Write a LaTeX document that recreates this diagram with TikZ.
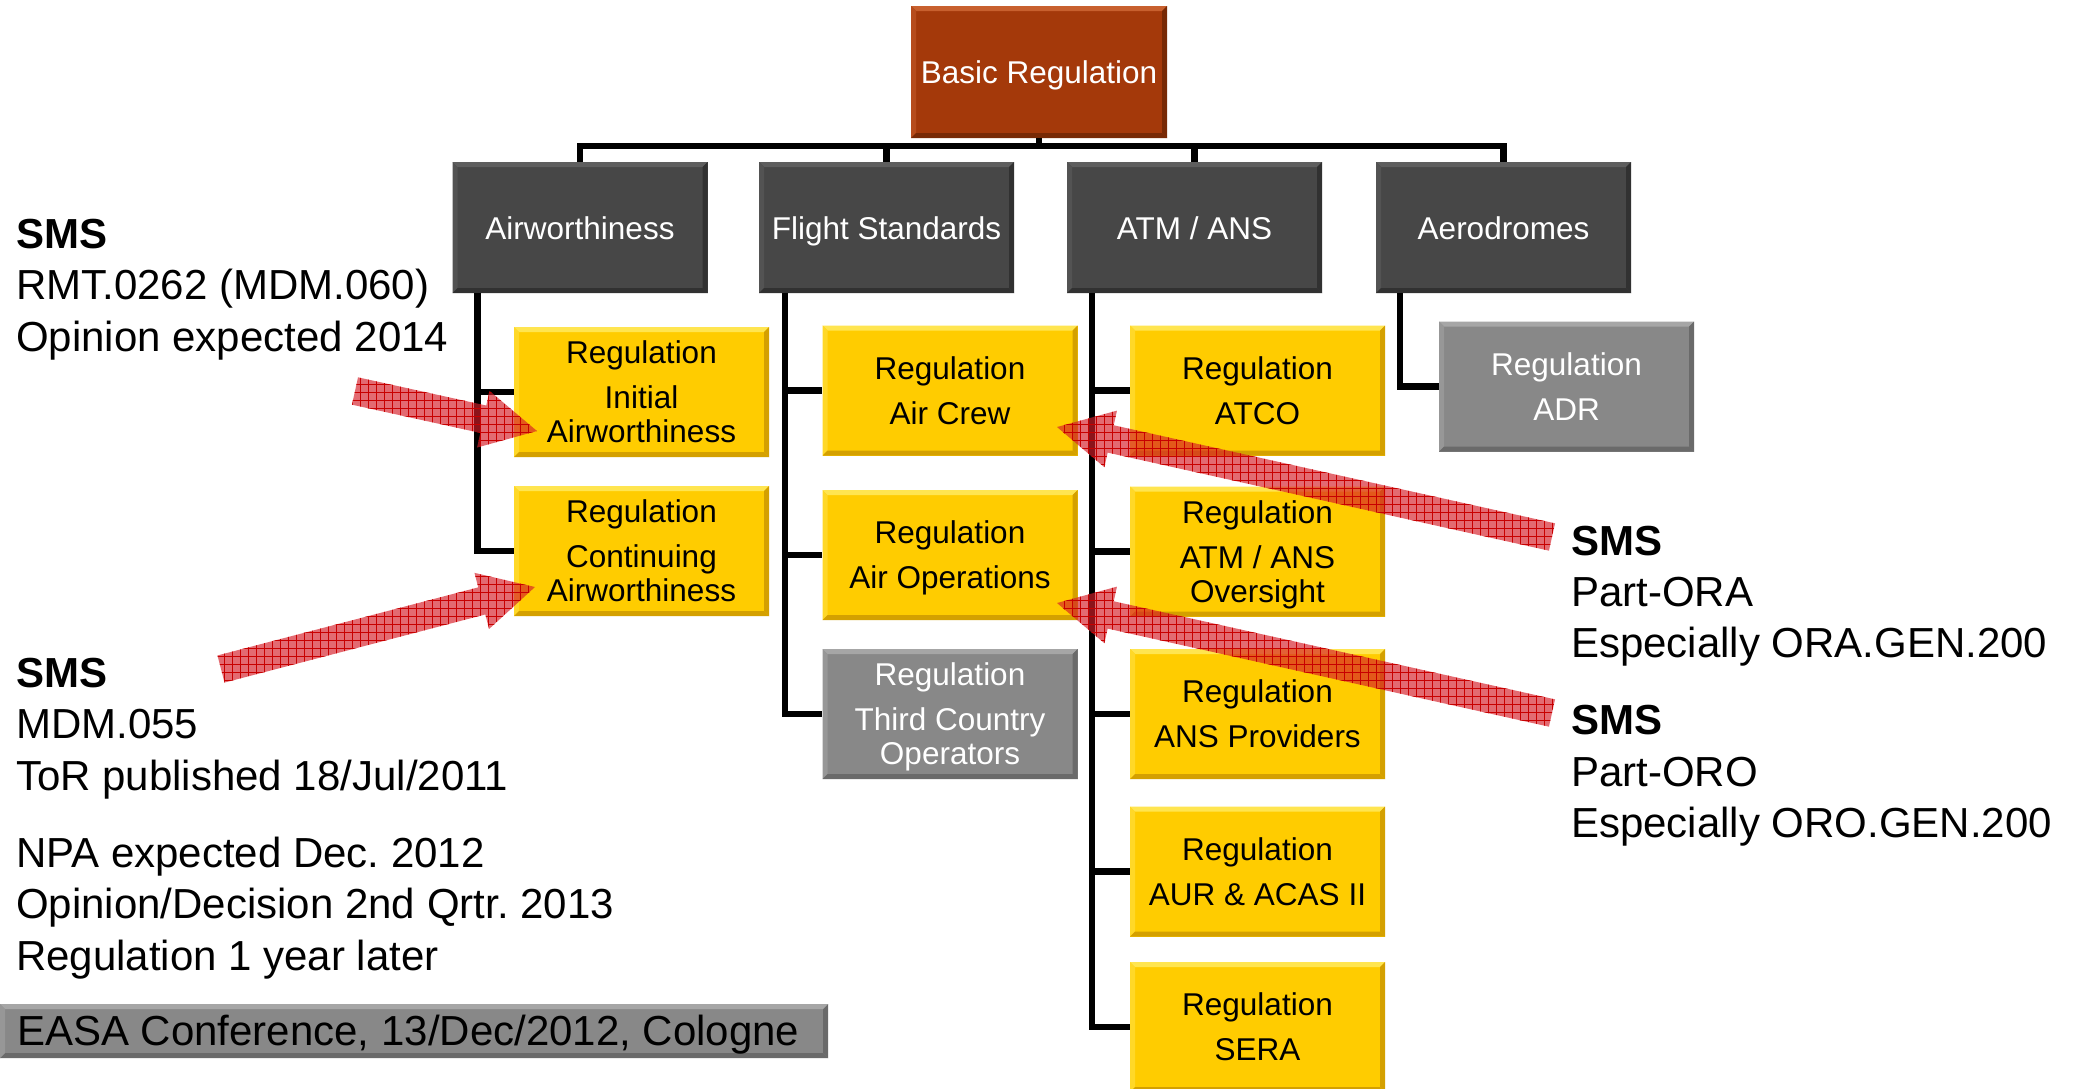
\documentclass[tikz,border=0pt]{standalone}
\usepackage{fontspec}
\setmainfont{Liberation Sans}
\usetikzlibrary{calc,patterns.meta}
\frenchspacing

\definecolor{basicfill}{HTML}{A4390A}
\definecolor{basiclite}{HTML}{C8602E}
\definecolor{basicdark}{HTML}{772905}
\definecolor{darkfill}{HTML}{474747}
\definecolor{darklite}{HTML}{5E5E5E}
\definecolor{darkdark}{HTML}{313131}
\definecolor{yelfill}{HTML}{FFCC00}
\definecolor{yellite}{HTML}{FFE550}
\definecolor{yeldark}{HTML}{D4A000}
\definecolor{greyfill}{HTML}{888888}
\definecolor{greylite}{HTML}{A6A6A6}
\definecolor{greydark}{HTML}{6A6A6A}
\definecolor{smsred}{RGB}{214,30,40}
\definecolor{smsgrid}{RGB}{200,0,0}

\def\bvw{5pt}

\tikzset{
  bev/.style n args={3}{fill=#1, path picture={
    \fill[#2] (path picture bounding box.north west) -- (path picture bounding box.north east)
      -- ([shift={(-\bvw,-\bvw)}]path picture bounding box.north east)
      -- ([shift={(\bvw,-\bvw)}]path picture bounding box.north west) -- cycle;
    \fill[#2!50!#1] (path picture bounding box.north west)
      -- ([shift={(\bvw,-\bvw)}]path picture bounding box.north west)
      -- ([shift={(\bvw,\bvw)}]path picture bounding box.south west)
      -- (path picture bounding box.south west) -- cycle;
    \fill[#3] (path picture bounding box.south west) -- (path picture bounding box.south east)
      -- ([shift={(-\bvw,\bvw)}]path picture bounding box.south east)
      -- ([shift={(\bvw,\bvw)}]path picture bounding box.south west) -- cycle;
    \fill[#3] (path picture bounding box.north east) -- (path picture bounding box.south east)
      -- ([shift={(-\bvw,\bvw)}]path picture bounding box.south east)
      -- ([shift={(-\bvw,-\bvw)}]path picture bounding box.north east) -- cycle;
  }},
  boxtext/.style={inner sep=0pt, align=center, font=\fontsize{31.5}{34}\selectfont},
  headbox/.style={boxtext, bev={darkfill}{darklite}{darkdark}, text=white,
    text height=23pt, text depth=0pt, minimum width=255pt, minimum height=131pt},
  basicbox/.style={boxtext, bev={basicfill}{basiclite}{basicdark}, text=white,
    text height=23pt, text depth=0pt, minimum width=256pt, minimum height=132pt},
  regbox/.style={boxtext, bev={yelfill}{yellite}{yeldark}, text=black,
    minimum width=255pt, minimum height=130pt},
  greybox/.style={boxtext, bev={greyfill}{greylite}{greydark}, text=white,
    minimum width=255pt, minimum height=130pt},
  conn/.style={line width=6.5pt, draw=black, line join=miter},
  note/.style={anchor=base west, inner sep=0pt, font=\fontsize{42}{50}\selectfont},
  smsarrow/.style={fill=smsred, fill opacity=0.66,
    postaction={pattern={Lines[angle=0,distance=8pt,line width=0.9pt]}, pattern color=smsgrid, fill opacity=0.5},
    postaction={pattern={Lines[angle=90,distance=8pt,line width=0.9pt]}, pattern color=smsgrid, fill opacity=0.5}},
}

% wide block arrow from a tail point to a tip point
\newcommand\fatarrow[3]{%
  \coordinate (#1-b) at ($(#3)!55pt!(#2)$);
  \path[smsarrow] ($(#2)!14pt!90:(#3)$) -- ($(#1-b)!14pt!90:(#3)$) -- ($(#1-b)!29pt!90:(#3)$)
    -- (#3) -- ($(#1-b)!29pt!-90:(#3)$) -- ($(#1-b)!14pt!-90:(#3)$) -- ($(#2)!14pt!-90:(#3)$) -- cycle;
}

\begin{document}
\begin{tikzpicture}[x=1pt,y=-1pt]
\clip (0,0) rectangle (2078,1088);
\fill[white] (0,0) rectangle (2078,1088);

% top of the hierarchy
\node[basicbox] (basic) at (1039,72) {Basic Regulation};

% domains
\node[headbox] (air)   at (580,227.5)    {Airworthiness};
\node[headbox] (fs)    at (886.5,227.5)  {Flight Standards};
\node[headbox] (atm)   at (1194.5,227.5) {ATM / ANS};
\node[headbox] (aero)  at (1503.5,227.5) {Aerodromes};

% implementing regulations
\node[regbox] (initial) at (641.5,392) {Regulation\\[11pt]Initial\\Airworthiness};
\node[regbox] (cont)    at (641.5,551) {Regulation\\[11pt]Continuing\\Airworthiness};

\node[regbox]  (crew) at (950,390.5) {Regulation\\[11pt]Air Crew};
\node[regbox]  (ops)  at (950,555)   {Regulation\\[11pt]\smash{Air Operations}};
\node[greybox] (tco)  at (950,714)   {Regulation\\[11pt]Third Country\\\smash{Operators}};

\node[regbox] (atco) at (1257.5,390.5) {Regulation\\[11pt]ATCO};
\node[regbox] (ovs)  at (1257.5,551.5) {Regulation\\[11pt]ATM / ANS\\\smash{Oversight}};
\node[regbox] (ansp) at (1257.5,714)   {Regulation\\[11pt]ANS Providers};
\node[regbox] (aur)  at (1257.5,871.5) {Regulation\\[11pt]AUR \& ACAS II};
\node[regbox] (sera) at (1257.5,1027)  {Regulation\\[11pt]SERA};

\node[greybox] (adr) at (1566.5,386.5) {Regulation\\[11pt]ADR};

% tree connectors
\coordinate (bus) at (0,146);
\draw[conn] (basic.south) -- (basic.south |- bus);
\draw[conn] (air.north) -- (air.north |- bus) -- (aero.north |- bus) -- (aero.north);
\draw[conn] (fs.north) -- (fs.north |- bus);
\draw[conn] (atm.north) -- (atm.north |- bus);

\draw[conn] ([xshift=25pt]air.south west) |- (initial.west);
\draw[conn] ([xshift=25pt]air.south west) |- (cont.west);

\draw[conn] ([xshift=26pt]fs.south west) |- (crew.west);
\draw[conn] ([xshift=26pt]fs.south west) |- (ops.west);
\draw[conn] ([xshift=26pt]fs.south west) |- (tco.west);

\draw[conn] ([xshift=25pt]atm.south west) |- (atco.west);
\draw[conn] ([xshift=25pt]atm.south west) |- (ovs.west);
\draw[conn] ([xshift=25pt]atm.south west) |- (ansp.west);
\draw[conn] ([xshift=25pt]atm.south west) |- (aur.west);
\draw[conn] ([xshift=25pt]atm.south west) |- (sera.west);

\draw[conn] ([xshift=24pt]aero.south west) |- (adr.west);

% notes on the left
\node[note] (la1) at (16,248) {\textbf{SMS}};
\node[note] (la2) at (16,299) {RMT.0262 (MDM.060)};
\node[note] (la3) at (16,351) {Opinion expected 2014};

\node[note] (lb1) at (16,687) {\textbf{SMS}};
\node[note] (lb2) at (16,738.5) {MDM.055};
\node[note] (lb3) at (16,790) {ToR published 18/Jul/2011};
\node[note] (lb4) at (16,867) {NPA expected Dec. 2012};
\node[note] (lb5) at (16,918.5) {Opinion/Decision 2nd Qrtr. 2013};
\node[note] (lb6) at (16,970) {Regulation 1 year later};

% notes on the right
\node[note] (ra1) at (1571,555) {\textbf{SMS}};
\node[note] (ra2) at (1571,606) {Part-ORA};
\node[note] (ra3) at (1571,657) {Especially ORA.GEN.200};
\node[note] (rb1) at (1571,734) {\textbf{SMS}};
\node[note] (rb2) at (1571,786) {Part-ORO};
\node[note] (rb3) at (1571,837) {Especially ORO.GEN.200};

% footer
\node[bev={greyfill}{greylite}{greydark}, minimum width=828pt, minimum height=54pt, inner sep=0pt,
  anchor=north west] (foot) at (0,1004) {};
\node[note] (foottext) at (17,1045) {EASA Conference, 13/Dec/2012, Cologne};

% SMS pointers
\coordinate (t1) at (355,391);  \coordinate (h1) at (537,431);
\coordinate (t2) at (221,669);  \coordinate (h2) at (535,587);
\coordinate (t3) at (1552,537); \coordinate (h3) at (1057,427);
\coordinate (t4) at (1552,713); \coordinate (h4) at (1057,603);
\fatarrow{a1}{t1}{h1}
\fatarrow{a2}{t2}{h2}
\fatarrow{a3}{t3}{h3}
\fatarrow{a4}{t4}{h4}
\end{tikzpicture}
\end{document}
